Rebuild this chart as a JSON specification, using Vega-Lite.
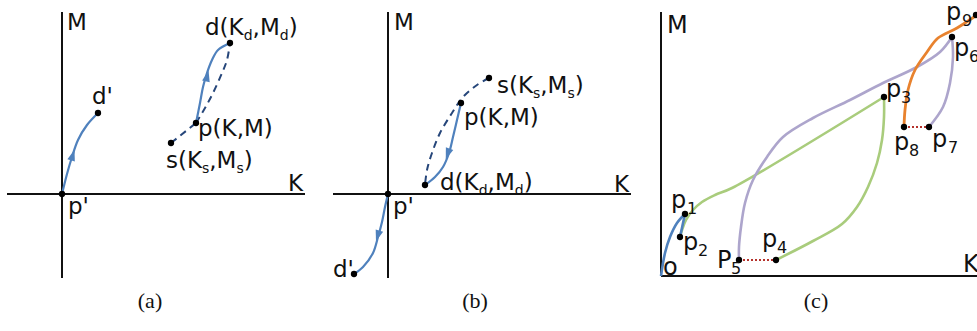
{
  "$schema": "https://vega.github.io/schema/vega-lite/v6.json",
  "padding": 0,
  "spacing": 0,
  "bounds": "flush",
  "config": {"view": {"stroke": null}},
  "datasets": {
    "a_lines": [
      {"c": "axisK", "K": -5.5, "M": 0}, {"c": "axisK", "K": 24.3, "M": 0},
      {"c": "axisM", "K": 0, "M": 18.2}, {"c": "axisM", "K": 0, "M": -8.4},
      {"c": "pd2", "K": 0, "M": 0}, {"c": "pd2", "K": 0.5, "M": 2.0}, {"c": "pd2", "K": 1.0, "M": 3.7}, {"c": "pd2", "K": 1.6, "M": 5.4}, {"c": "pd2", "K": 2.5, "M": 6.9}, {"c": "pd2", "K": 3.6, "M": 8.1},
      {"c": "pd", "K": 13.4, "M": 7.1}, {"c": "pd", "K": 13.8, "M": 9.1}, {"c": "pd", "K": 14.1, "M": 10.7}, {"c": "pd", "K": 14.5, "M": 12.1}, {"c": "pd", "K": 15.0, "M": 13.4}, {"c": "pd", "K": 15.6, "M": 14.4}, {"c": "pd", "K": 16.8, "M": 15.1},
      {"c": "sp", "K": 10.9, "M": 5.1}, {"c": "sp", "K": 13.4, "M": 7.1},
      {"c": "pdx", "K": 13.4, "M": 7.1}, {"c": "pdx", "K": 14.3, "M": 8.6}, {"c": "pdx", "K": 15.1, "M": 10.1}, {"c": "pdx", "K": 16.0, "M": 12.1}, {"c": "pdx", "K": 16.5, "M": 13.4}, {"c": "pdx", "K": 16.8, "M": 15.1}
    ],
    "a_dots": [
      {"K": 0, "M": 0}, {"K": 3.6, "M": 8.1}, {"K": 16.8, "M": 15.1}, {"K": 13.4, "M": 7.1}, {"K": 10.9, "M": 5.1}
    ],
    "a_arrows": [
      {"K": 1.05, "M": 3.8, "heading": 18}, {"K": 14.5, "M": 11.7, "heading": 14}
    ],
    "a_txt": [
      {"k": "main", "t": "M", "K": 0.5, "M": 16.4},
      {"k": "main", "t": "K", "K": 22.6, "M": 0.3},
      {"k": "main", "t": "p'", "K": 0.6, "M": -2.0},
      {"k": "main", "t": "d'", "K": 3.0, "M": 9.0},
      {"k": "main", "t": "d(K", "K": 14.3, "M": 15.9},
      {"k": "sub", "t": "d", "K": 18.17, "M": 15.9},
      {"k": "main", "t": ",M", "K": 19.06, "M": 15.9},
      {"k": "sub", "t": "d", "K": 21.78, "M": 15.9},
      {"k": "main", "t": ")", "K": 22.67, "M": 15.9},
      {"k": "main", "t": "p(K,M)", "K": 13.6, "M": 5.8},
      {"k": "main", "t": "s(K", "K": 10.4, "M": 2.6},
      {"k": "sub", "t": "s", "K": 14.0, "M": 2.6},
      {"k": "main", "t": ",M", "K": 14.73, "M": 2.6},
      {"k": "sub", "t": "s", "K": 17.45, "M": 2.6},
      {"k": "main", "t": ")", "K": 18.18, "M": 2.6},
      {"k": "cap", "t": "(a)", "K": 8.8, "M": -11.4}
    ],
    "b_lines": [
      {"c": "axisK", "K": -5.5, "M": 0}, {"c": "axisK", "K": 24.3, "M": 0},
      {"c": "axisM", "K": 0, "M": 18.2}, {"c": "axisM", "K": 0, "M": -8.4},
      {"c": "pd2", "K": 0, "M": 0}, {"c": "pd2", "K": -0.3, "M": -1.3}, {"c": "pd2", "K": -0.6, "M": -2.8}, {"c": "pd2", "K": -1.0, "M": -4.3}, {"c": "pd2", "K": -1.5, "M": -5.9}, {"c": "pd2", "K": -2.5, "M": -7.3}, {"c": "pd2", "K": -3.4, "M": -8.0},
      {"c": "pd", "K": 7.3, "M": 9.1}, {"c": "pd", "K": 6.9, "M": 7.4}, {"c": "pd", "K": 6.5, "M": 5.7}, {"c": "pd", "K": 6.1, "M": 4.1}, {"c": "pd", "K": 5.5, "M": 2.7}, {"c": "pd", "K": 4.7, "M": 1.7}, {"c": "pd", "K": 3.7, "M": 0.9},
      {"c": "sd", "K": 10.1, "M": 11.6}, {"c": "sd", "K": 8.9, "M": 10.9}, {"c": "sd", "K": 7.5, "M": 9.7}, {"c": "sd", "K": 6.4, "M": 8.1}, {"c": "sd", "K": 5.2, "M": 6.1}, {"c": "sd", "K": 4.4, "M": 4.1}, {"c": "sd", "K": 3.9, "M": 2.4}, {"c": "sd", "K": 3.7, "M": 0.9}
    ],
    "b_dots": [
      {"K": 0, "M": 0}, {"K": -3.4, "M": -8.0}, {"K": 3.7, "M": 0.9}, {"K": 7.3, "M": 9.1}, {"K": 10.1, "M": 11.6}
    ],
    "b_arrows": [
      {"K": -1.0, "M": -4.1, "heading": 198}, {"K": 6.0, "M": 4.1, "heading": 200}
    ],
    "b_txt": [
      {"k": "main", "t": "M", "K": 0.6, "M": 16.4},
      {"k": "main", "t": "K", "K": 22.6, "M": 0.2},
      {"k": "main", "t": "p'", "K": 0.5, "M": -2.0},
      {"k": "main", "t": "d'", "K": -5.5, "M": -8.3},
      {"k": "main", "t": "s(K", "K": 10.9, "M": 10.1},
      {"k": "sub", "t": "s", "K": 14.5, "M": 10.1},
      {"k": "main", "t": ",M", "K": 15.23, "M": 10.1},
      {"k": "sub", "t": "s", "K": 17.95, "M": 10.1},
      {"k": "main", "t": ")", "K": 18.68, "M": 10.1},
      {"k": "main", "t": "p(K,M)", "K": 7.6, "M": 6.9},
      {"k": "main", "t": "d(K", "K": 5.2, "M": 0.4},
      {"k": "sub", "t": "d", "K": 9.07, "M": 0.4},
      {"k": "main", "t": ",M", "K": 9.96, "M": 0.4},
      {"k": "sub", "t": "d", "K": 12.68, "M": 0.4},
      {"k": "main", "t": ")", "K": 13.57, "M": 0.4},
      {"k": "cap", "t": "(b)", "K": 8.7, "M": -11.4}
    ],
    "c_lines": [
      {"c": "axisK", "K": 0, "M": 0}, {"c": "axisK", "K": 31.6, "M": 0},
      {"c": "axisM", "K": 0, "M": 26.4}, {"c": "axisM", "K": 0, "M": 0},
      {"c": "op1", "K": 0, "M": 0}, {"c": "op1", "K": 0.4, "M": 2.3}, {"c": "op1", "K": 0.9, "M": 3.9}, {"c": "op1", "K": 1.6, "M": 5.3}, {"c": "op1", "K": 2.4, "M": 6.2},
      {"c": "p1p2", "K": 2.4, "M": 6.2}, {"c": "p1p2", "K": 1.9, "M": 3.9},
      {"c": "p2p3", "K": 1.9, "M": 3.9}, {"c": "p2p3", "K": 2.1, "M": 4.6}, {"c": "p2p3", "K": 2.5, "M": 5.6}, {"c": "p2p3", "K": 3.2, "M": 6.6}, {"c": "p2p3", "K": 4.1, "M": 7.4}, {"c": "p2p3", "K": 5.4, "M": 8.1}, {"c": "p2p3", "K": 7.1, "M": 8.8}, {"c": "p2p3", "K": 22.3, "M": 17.9},
      {"c": "p3p4", "K": 22.3, "M": 17.9}, {"c": "p3p4", "K": 22.3, "M": 15.9}, {"c": "p3p4", "K": 22.1, "M": 13.6}, {"c": "p3p4", "K": 21.6, "M": 11.3}, {"c": "p3p4", "K": 20.7, "M": 8.9}, {"c": "p3p4", "K": 19.6, "M": 6.9}, {"c": "p3p4", "K": 18.1, "M": 5.2}, {"c": "p3p4", "K": 15.2, "M": 3.5}, {"c": "p3p4", "K": 11.5, "M": 1.6},
      {"c": "p5p6", "K": 7.8, "M": 1.6}, {"c": "p5p6", "K": 7.8, "M": 2.9}, {"c": "p5p6", "K": 8.0, "M": 4.9}, {"c": "p5p6", "K": 8.4, "M": 7.3}, {"c": "p5p6", "K": 9.2, "M": 9.6}, {"c": "p5p6", "K": 10.6, "M": 11.9}, {"c": "p5p6", "K": 12.2, "M": 13.9}, {"c": "p5p6", "K": 15.2, "M": 15.8}, {"c": "p5p6", "K": 18.9, "M": 17.6}, {"c": "p5p6", "K": 22.2, "M": 19.3}, {"c": "p5p6", "K": 25.6, "M": 20.9}, {"c": "p5p6", "K": 27.9, "M": 22.4}, {"c": "p5p6", "K": 29.1, "M": 23.9},
      {"c": "p6p7", "K": 29.1, "M": 23.9}, {"c": "p6p7", "K": 29.2, "M": 21.9}, {"c": "p6p7", "K": 28.9, "M": 19.3}, {"c": "p6p7", "K": 28.2, "M": 16.9}, {"c": "p6p7", "K": 26.8, "M": 14.9},
      {"c": "p8p9", "K": 24.3, "M": 14.9}, {"c": "p8p9", "K": 24.4, "M": 16.6}, {"c": "p8p9", "K": 24.7, "M": 18.6}, {"c": "p8p9", "K": 25.4, "M": 20.6}, {"c": "p8p9", "K": 26.6, "M": 22.4}, {"c": "p8p9", "K": 27.7, "M": 23.8}, {"c": "p8p9", "K": 29.6, "M": 24.8}, {"c": "p8p9", "K": 31.6, "M": 26.1},
      {"c": "p5p4", "K": 7.8, "M": 1.6}, {"c": "p5p4", "K": 11.5, "M": 1.6},
      {"c": "p8p7", "K": 24.3, "M": 14.9}, {"c": "p8p7", "K": 26.8, "M": 14.9}
    ],
    "c_dots": [
      {"K": 2.4, "M": 6.2}, {"K": 1.9, "M": 3.9}, {"K": 22.3, "M": 17.9}, {"K": 11.5, "M": 1.6}, {"K": 7.8, "M": 1.6},
      {"K": 29.1, "M": 23.9}, {"K": 26.8, "M": 14.9}, {"K": 24.3, "M": 14.9}, {"K": 31.5, "M": 26.1}
    ],
    "c_txt": [
      {"k": "main", "t": "M", "K": 0.6, "M": 24.3},
      {"k": "main", "t": "K", "K": 30.2, "M": 0.4},
      {"k": "main", "t": "o", "K": 0.2, "M": 0.1},
      {"k": "main", "t": "p", "K": 1.0, "M": 6.8}, {"k": "sub", "t": "1", "K": 2.6, "M": 6.8},
      {"k": "main", "t": "p", "K": 2.2, "M": 2.6}, {"k": "sub", "t": "2", "K": 3.7, "M": 2.6},
      {"k": "main", "t": "P", "K": 5.6, "M": 0.8}, {"k": "sub", "t": "5", "K": 7.0, "M": 0.8},
      {"k": "main", "t": "p", "K": 10.1, "M": 2.9}, {"k": "sub", "t": "4", "K": 11.6, "M": 2.9},
      {"k": "main", "t": "p", "K": 22.5, "M": 17.9}, {"k": "sub", "t": "3", "K": 24.0, "M": 17.9},
      {"k": "main", "t": "p", "K": 29.3, "M": 22.0}, {"k": "sub", "t": "6", "K": 30.8, "M": 22.0},
      {"k": "main", "t": "p", "K": 27.1, "M": 12.9}, {"k": "sub", "t": "7", "K": 28.7, "M": 12.9},
      {"k": "main", "t": "p", "K": 23.3, "M": 12.6}, {"k": "sub", "t": "8", "K": 24.8, "M": 12.6},
      {"k": "main", "t": "p", "K": 28.5, "M": 25.6}, {"k": "sub", "t": "9", "K": 30.1, "M": 25.6},
      {"k": "cap", "t": "(c)", "K": 15.5, "M": -3.2}
    ]
  },
  "hconcat": [
    {
      "width": 320,
      "height": 331,
      "encoding": {
        "x": {"field": "K", "type": "quantitative", "scale": {"domain": [-6.2, 25.8], "nice": false, "zero": false}, "axis": null},
        "y": {"field": "M", "type": "quantitative", "scale": {"domain": [-13.7, 19.4], "nice": false, "zero": false}, "axis": null}
      },
      "layer": [
        {
          "data": {"name": "a_lines"},
          "transform": [{"filter": {"field": "c", "oneOf": ["axisK", "axisM"]}}],
          "mark": {"type": "line", "color": "#111111", "strokeWidth": 2},
          "encoding": {"detail": {"field": "c"}, "order": {"value": null}}
        },
        {
          "data": {"name": "a_lines"},
          "transform": [{"filter": {"field": "c", "oneOf": ["sp", "pdx"]}}],
          "mark": {"type": "line", "color": "#26467a", "strokeWidth": 2, "strokeDash": [7, 5], "interpolate": "catmull-rom"},
          "encoding": {"detail": {"field": "c"}, "order": {"value": null}}
        },
        {
          "data": {"name": "a_lines"},
          "transform": [{"filter": {"field": "c", "oneOf": ["pd", "pd2"]}}],
          "mark": {"type": "line", "color": "#4f81bd", "strokeWidth": 2.2, "interpolate": "catmull-rom"},
          "encoding": {"detail": {"field": "c"}, "order": {"value": null}}
        },
        {
          "data": {"name": "a_arrows"},
          "mark": {"type": "point", "shape": "M0,-1L0.6,0.7L-0.6,0.7Z", "filled": true, "color": "#4f81bd", "opacity": 1, "size": 170},
          "encoding": {"angle": {"field": "heading", "type": "quantitative", "scale": null}}
        },
        {
          "data": {"name": "a_dots"},
          "mark": {"type": "circle", "color": "#000000", "opacity": 1, "size": 40}
        },
        {
          "data": {"name": "a_txt"},
          "transform": [{"filter": "datum.k == 'main'"}],
          "mark": {"type": "text", "font": "DejaVu Sans", "fontSize": 23, "align": "left", "baseline": "alphabetic", "color": "#111111"},
          "encoding": {"text": {"field": "t"}}
        },
        {
          "data": {"name": "a_txt"},
          "transform": [{"filter": "datum.k == 'sub'"}],
          "mark": {"type": "text", "font": "DejaVu Sans", "fontSize": 14, "dy": 5, "align": "left", "baseline": "alphabetic", "color": "#111111"},
          "encoding": {"text": {"field": "t"}}
        },
        {
          "data": {"name": "a_txt"},
          "transform": [{"filter": "datum.k == 'cap'"}],
          "mark": {"type": "text", "font": "Liberation Serif", "fontSize": 22, "align": "center", "baseline": "alphabetic", "color": "#111111"},
          "encoding": {"text": {"field": "t"}}
        }
      ]
    },
    {
      "width": 330,
      "height": 331,
      "encoding": {
        "x": {"field": "K", "type": "quantitative", "scale": {"domain": [-6.8, 26.2], "nice": false, "zero": false}, "axis": null},
        "y": {"field": "M", "type": "quantitative", "scale": {"domain": [-13.7, 19.4], "nice": false, "zero": false}, "axis": null}
      },
      "layer": [
        {
          "data": {"name": "b_lines"},
          "transform": [{"filter": {"field": "c", "oneOf": ["axisK", "axisM"]}}],
          "mark": {"type": "line", "color": "#111111", "strokeWidth": 2},
          "encoding": {"detail": {"field": "c"}, "order": {"value": null}}
        },
        {
          "data": {"name": "b_lines"},
          "transform": [{"filter": {"field": "c", "equal": "sd"}}],
          "mark": {"type": "line", "color": "#26467a", "strokeWidth": 2, "strokeDash": [7, 5], "interpolate": "catmull-rom"},
          "encoding": {"detail": {"field": "c"}, "order": {"value": null}}
        },
        {
          "data": {"name": "b_lines"},
          "transform": [{"filter": {"field": "c", "oneOf": ["pd", "pd2"]}}],
          "mark": {"type": "line", "color": "#4f81bd", "strokeWidth": 2.2, "interpolate": "catmull-rom"},
          "encoding": {"detail": {"field": "c"}, "order": {"value": null}}
        },
        {
          "data": {"name": "b_arrows"},
          "mark": {"type": "point", "shape": "M0,-1L0.6,0.7L-0.6,0.7Z", "filled": true, "color": "#4f81bd", "opacity": 1, "size": 170},
          "encoding": {"angle": {"field": "heading", "type": "quantitative", "scale": null}}
        },
        {
          "data": {"name": "b_dots"},
          "mark": {"type": "circle", "color": "#000000", "opacity": 1, "size": 40}
        },
        {
          "data": {"name": "b_txt"},
          "transform": [{"filter": "datum.k == 'main'"}],
          "mark": {"type": "text", "font": "DejaVu Sans", "fontSize": 23, "align": "left", "baseline": "alphabetic", "color": "#111111"},
          "encoding": {"text": {"field": "t"}}
        },
        {
          "data": {"name": "b_txt"},
          "transform": [{"filter": "datum.k == 'sub'"}],
          "mark": {"type": "text", "font": "DejaVu Sans", "fontSize": 14, "dy": 5, "align": "left", "baseline": "alphabetic", "color": "#111111"},
          "encoding": {"text": {"field": "t"}}
        },
        {
          "data": {"name": "b_txt"},
          "transform": [{"filter": "datum.k == 'cap'"}],
          "mark": {"type": "text", "font": "Liberation Serif", "fontSize": 22, "align": "center", "baseline": "alphabetic", "color": "#111111"},
          "encoding": {"text": {"field": "t"}}
        }
      ]
    },
    {
      "width": 327,
      "height": 331,
      "encoding": {
        "x": {"field": "K", "type": "quantitative", "scale": {"domain": [-1.1, 31.6], "nice": false, "zero": false}, "axis": null},
        "y": {"field": "M", "type": "quantitative", "scale": {"domain": [-5.5, 27.6], "nice": false, "zero": false}, "axis": null}
      },
      "layer": [
        {
          "data": {"name": "c_lines"},
          "transform": [{"filter": {"field": "c", "oneOf": ["axisK", "axisM"]}}],
          "mark": {"type": "line", "color": "#111111", "strokeWidth": 2},
          "encoding": {"detail": {"field": "c"}, "order": {"value": null}}
        },
        {
          "data": {"name": "c_lines"},
          "transform": [{"filter": {"field": "c", "oneOf": ["p2p3", "p3p4"]}}],
          "mark": {"type": "line", "color": "#a9cc7c", "strokeWidth": 2.6, "interpolate": "catmull-rom"},
          "encoding": {"detail": {"field": "c"}, "order": {"value": null}}
        },
        {
          "data": {"name": "c_lines"},
          "transform": [{"filter": {"field": "c", "oneOf": ["p5p6", "p6p7"]}}],
          "mark": {"type": "line", "color": "#ada5cc", "strokeWidth": 2.6, "interpolate": "catmull-rom"},
          "encoding": {"detail": {"field": "c"}, "order": {"value": null}}
        },
        {
          "data": {"name": "c_lines"},
          "transform": [{"filter": {"field": "c", "equal": "p8p9"}}],
          "mark": {"type": "line", "color": "#e8822e", "strokeWidth": 2.8, "interpolate": "catmull-rom"},
          "encoding": {"detail": {"field": "c"}, "order": {"value": null}}
        },
        {
          "data": {"name": "c_lines"},
          "transform": [{"filter": {"field": "c", "oneOf": ["op1", "p1p2"]}}],
          "mark": {"type": "line", "color": "#4f81bd", "strokeWidth": 2.6, "interpolate": "catmull-rom"},
          "encoding": {"detail": {"field": "c"}, "order": {"value": null}}
        },
        {
          "data": {"name": "c_lines"},
          "transform": [{"filter": {"field": "c", "oneOf": ["p5p4", "p8p7"]}}],
          "mark": {"type": "line", "color": "#b5322c", "strokeWidth": 2, "strokeDash": [2, 2]},
          "encoding": {"detail": {"field": "c"}, "order": {"value": null}}
        },
        {
          "data": {"name": "c_dots"},
          "mark": {"type": "circle", "color": "#000000", "opacity": 1, "size": 40}
        },
        {
          "data": {"name": "c_txt"},
          "transform": [{"filter": "datum.k == 'main'"}],
          "mark": {"type": "text", "font": "DejaVu Sans", "fontSize": 24, "align": "left", "baseline": "alphabetic", "color": "#111111"},
          "encoding": {"text": {"field": "t"}}
        },
        {
          "data": {"name": "c_txt"},
          "transform": [{"filter": "datum.k == 'sub'"}],
          "mark": {"type": "text", "font": "DejaVu Sans", "fontSize": 16, "dy": 6, "align": "left", "baseline": "alphabetic", "color": "#111111"},
          "encoding": {"text": {"field": "t"}}
        },
        {
          "data": {"name": "c_txt"},
          "transform": [{"filter": "datum.k == 'cap'"}],
          "mark": {"type": "text", "font": "Liberation Serif", "fontSize": 22, "align": "center", "baseline": "alphabetic", "color": "#111111"},
          "encoding": {"text": {"field": "t"}}
        }
      ]
    }
  ]
}
